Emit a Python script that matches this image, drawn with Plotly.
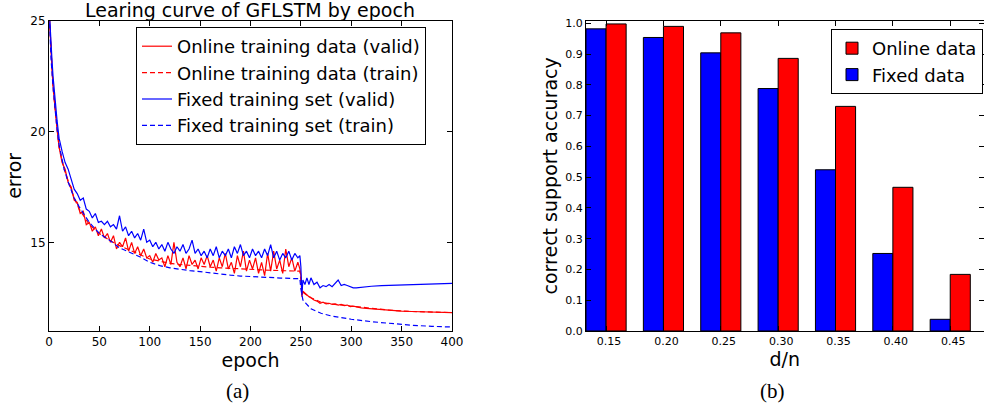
import plotly.graph_objects as go

# ---------------- data: learning curves (left panel) ----------------
EPOCHS_VALID = ([0, 1, 2, 3, 4, 5, 6, 7, 8, 9] + list(range(10, 250, 3)) +
                [249, 250, 251, 252, 254, 256, 258, 260, 263, 266, 269, 272, 275, 278,
                 281, 284, 287, 290, 293, 296, 299, 302, 305, 310, 315, 320,
                 330, 340, 350, 360, 370, 380, 390, 400])

ONLINE_VALID = [25.6, 24.4, 23.5, 22.8, 22.1, 21.5, 21.0, 20.5, 20.1, 19.7,
                19.3, 18.6, 18.3, 17.7, 17.5, 16.9, 16.8, 16.3, 16.4, 15.8,
                15.9, 15.5, 15.7, 15.3, 15.6, 15.2, 15.4, 15.0, 15.3, 14.7,
                15.0, 14.8, 15.2, 14.6, 15.0, 14.5, 14.8, 14.4, 14.7, 14.3,
                14.4, 14.1, 14.5, 14.2, 14.3, 13.9, 14.4, 14.0, 15.0, 14.1,
                13.9, 14.3, 13.8, 14.4, 14.0, 14.2, 13.8, 14.3, 14.0, 14.4,
                13.9, 14.2, 13.7, 14.3, 13.9, 14.5, 13.8, 14.1, 13.6, 14.4,
                13.9, 14.6, 13.7, 14.2, 13.8, 14.3, 13.6, 14.1, 13.5, 14.5,
                13.7, 14.6, 13.8, 14.2, 13.6, 14.7, 13.9, 14.3, 13.7, 14.1,
                13.8, 13.5, 12.55, 12.8, 12.7, 12.65, 12.55, 12.5, 12.4, 12.35,
                12.25, 12.3, 12.22, 12.25, 12.2, 12.22, 12.17, 12.2, 12.15, 12.17,
                12.1, 12.12, 12.08, 12.04, 12.02, 12.0, 11.97, 11.93, 11.9, 11.88,
                11.86, 11.85, 11.84, 11.83]

FIXED_VALID = [25.7, 24.7, 23.9, 23.2, 22.5, 21.9, 21.4, 20.9, 20.5, 20.1,
               19.7, 19.1, 18.6, 18.3, 17.9, 17.4, 17.2, 16.9, 17.0, 16.5,
               16.4, 16.1, 16.3, 15.9, 15.95, 15.8, 15.95, 15.7, 15.8, 15.6,
               16.2, 15.5, 15.7, 15.3, 15.5, 15.2, 15.4, 15.1, 15.6, 15.0,
               15.1, 14.8, 15.0, 14.7, 14.9, 14.6, 15.0, 14.7, 14.5, 14.8,
               14.6, 14.9, 14.5, 14.7, 15.1, 14.5, 14.7, 14.4, 14.6, 14.3,
               14.7, 14.4, 14.8, 14.3, 14.6, 14.4, 14.7, 14.3, 14.8, 14.5,
               14.9, 14.4, 14.6, 14.3, 14.7, 14.4, 14.6, 14.3, 14.7, 14.4,
               14.9, 14.3, 14.6, 14.2, 14.5, 14.3, 14.6, 14.2, 14.5, 14.3,
               14.4, 13.9, 12.6, 13.3, 13.1, 13.4, 13.1, 13.4, 13.1, 13.2,
               12.95, 13.05, 13.0, 13.1, 13.0, 13.15, 13.3, 13.05, 13.1, 13.05,
               13.0, 12.95, 12.95, 12.98, 13.0, 13.02, 13.05, 13.06, 13.1, 13.1,
               13.12, 13.13, 13.14, 13.15]

EPOCHS_TRAIN = [0, 2, 4, 6, 8, 10, 15, 20, 25, 30, 40, 50, 60, 70, 80, 90, 100, 110,
                120, 130, 140, 150, 160, 170, 180, 190, 200, 210, 220, 230, 240, 249,
                250, 252, 255, 260, 265, 270, 280, 290, 300, 320, 340, 360, 380, 400]

ONLINE_TRAIN = [25.5, 23.4, 22.0, 21.0, 20.0, 19.3, 18.3, 17.6, 17.0, 16.5,
                15.8, 15.4, 15.1, 14.85, 14.65, 14.45, 14.25, 14.15, 14.05, 14.0,
                13.95, 13.92, 13.88, 13.85, 13.82, 13.8, 13.78, 13.76, 13.74, 13.72,
                13.71, 13.7, 13.3, 12.75, 12.65, 12.5, 12.4, 12.3, 12.22, 12.17,
                12.12, 12.0, 11.93, 11.88, 11.85, 11.83]

FIXED_TRAIN = [25.6, 23.3, 22.0, 21.0, 20.1, 19.4, 18.3, 17.6, 17.0, 16.6,
               15.9, 15.4, 15.1, 14.75, 14.55, 14.35, 14.1, 13.95, 13.85, 13.78,
               13.72, 13.68, 13.62, 13.57, 13.52, 13.48, 13.45, 13.43, 13.41, 13.39,
               13.37, 13.36, 12.9, 12.4, 12.25, 12.0, 11.9, 11.8, 11.68, 11.6,
               11.53, 11.42, 11.33, 11.26, 11.21, 11.18]

# ---------------- data: support accuracy (right panel) ----------------
D_OVER_N = ["0.15", "0.20", "0.25", "0.30", "0.35", "0.40", "0.45"]
ACC_ONLINE = [0.998, 0.990, 0.969, 0.886, 0.730, 0.467, 0.184]
ACC_FIXED = [0.982, 0.954, 0.904, 0.788, 0.524, 0.252, 0.038]
BAR_W = 0.35
TICK_POS = [i + BAR_W for i in range(len(D_OVER_N))]

FONT = "DejaVu Sans"
RED = "#ff0000"
BLUE = "#0000ff"

fig = go.Figure()

fig.add_trace(go.Scatter(x=EPOCHS_VALID, y=ONLINE_VALID, mode="lines",
                         name="Online training data (valid)", legendgroup="a",
                         line=dict(color=RED, width=1.2)))
fig.add_trace(go.Scatter(x=EPOCHS_TRAIN, y=ONLINE_TRAIN, mode="lines",
                         name="Online training data (train)", legendgroup="b",
                         line=dict(color=RED, width=1.2, dash="5px,3px")))
fig.add_trace(go.Scatter(x=EPOCHS_VALID, y=FIXED_VALID, mode="lines",
                         name="Fixed training set (valid)", legendgroup="c",
                         line=dict(color=BLUE, width=1.2)))
fig.add_trace(go.Scatter(x=EPOCHS_TRAIN, y=FIXED_TRAIN, mode="lines",
                         name="Fixed training set (train)", legendgroup="d",
                         line=dict(color=BLUE, width=1.2, dash="5px,3px")))

fig.add_trace(go.Bar(x=TICK_POS, y=ACC_FIXED, width=BAR_W, offset=-BAR_W,
                     name="Fixed data", marker=dict(color=BLUE, line=dict(color="black", width=1)),
                     xaxis="x2", yaxis="y2", legend="legend2"))
fig.add_trace(go.Bar(x=TICK_POS, y=ACC_ONLINE, width=BAR_W, offset=0,
                     name="Online data", marker=dict(color=RED, line=dict(color="black", width=1)),
                     xaxis="x2", yaxis="y2", legend="legend2"))

W, H = 984, 411
ydom = [(H - 331) / H, (H - 20.7) / H]

common = dict(showline=True, linecolor="black", linewidth=1, mirror="ticks",
              ticks="inside", ticklen=5, tickcolor="black", showgrid=False,
              zeroline=False, automargin=False)

fig.update_layout(
    width=W, height=H, margin=dict(l=0, r=0, t=0, b=0),
    paper_bgcolor="white", plot_bgcolor="white",
    font=dict(family=FONT, color="black"),
    barmode="overlay",
    xaxis=dict(domain=[49 / W, 452 / W], range=[0, 400], tickvals=[0, 50, 100, 150, 200, 250, 300, 350, 400],
               tickfont=dict(size=12), title=dict(text="epoch", font=dict(size=19), standoff=0),
               anchor="y", **common),
    yaxis=dict(domain=ydom, range=[11, 25], tickvals=[15, 20, 25],
               tickfont=dict(size=12), title=dict(text="error", font=dict(size=19), standoff=3),
               anchor="x", **common),
    xaxis2=dict(domain=[586 / W, 983.5 / W], range=[0, 6.93], tickvals=TICK_POS, ticktext=D_OVER_N,
                tickfont=dict(size=11), ticklabelshift=3,
                title=dict(text="d/n", font=dict(size=19), standoff=0),
                anchor="y2", **common),
    yaxis2=dict(domain=ydom, range=[0, 1.0085], tickvals=[i / 10 for i in range(11)],
                tickformat=".1f", tickfont=dict(size=11),
                title=dict(text="correct support accuracy", font=dict(size=19), standoff=2),
                anchor="x2", **common),
    legend=dict(x=136 / W, y=(H - 27) / H, xanchor="left", yanchor="top",
                bordercolor="black", borderwidth=1, bgcolor="white",
                font=dict(size=18), tracegroupgap=0, traceorder="grouped", itemwidth=30),
    legend2=dict(x=983 / W, y=(H - 29) / H, xanchor="right", yanchor="top",
                 bordercolor="black", borderwidth=1, bgcolor="white",
                 font=dict(size=18), traceorder="reversed"),
    annotations=[
        dict(text="Learing curve of GFLSTM by epoch", x=250 / W, y=(H - 10) / H,
             xref="paper", yref="paper", showarrow=False, font=dict(size=19),
             xanchor="center", yanchor="middle"),
        dict(text="(a)", x=237 / W, y=(H - 391) / H, xref="paper", yref="paper",
             showarrow=False, font=dict(size=21, family="Liberation Serif"),
             xanchor="center", yanchor="middle"),
        dict(text="(b)", x=772 / W, y=(H - 391) / H, xref="paper", yref="paper",
             showarrow=False, font=dict(size=21, family="Liberation Serif"),
             xanchor="center", yanchor="middle"),
    ],
)

fig.write_html("out.html", config={"displayModeBar": False, "staticPlot": True},
               post_script="document.body.style.margin='0px';document.body.style.overflow='hidden';")
